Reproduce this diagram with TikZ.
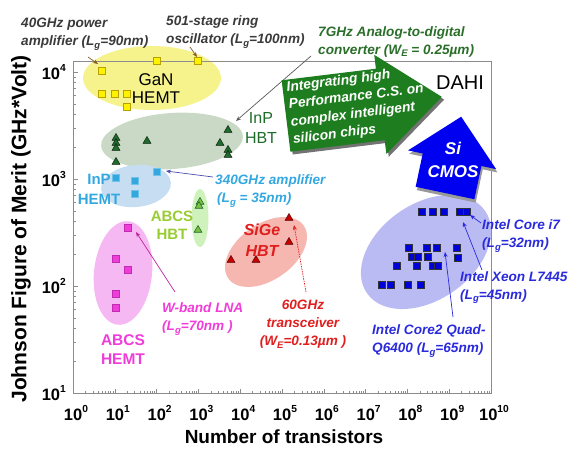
\documentclass[tikz,border=0pt]{standalone}
\usepackage{fontspec}
\setmainfont{Liberation Sans}
\usepackage{graphicx}
\usetikzlibrary{arrows.meta,shapes.geometric}
\definecolor{axgray}{HTML}{8C8C8C}
\definecolor{annot}{HTML}{3A3A3A}
\definecolor{ganfill}{HTML}{F7F38C}
\definecolor{ysqf}{HTML}{FFF200}
\definecolor{ysqd}{HTML}{B8A000}
\definecolor{hbtfill}{HTML}{C9D9C5}
\definecolor{hbtgreen}{HTML}{1E6B2A}
\definecolor{hemtfill}{HTML}{C6DDF2}
\definecolor{skyb}{HTML}{33A8E0}
\definecolor{abhbtfill}{HTML}{CFF2BC}
\definecolor{abgreen}{HTML}{99CC33}
\definecolor{abtri}{HTML}{7CC242}
\definecolor{pinkfill}{HTML}{F6B8F2}
\definecolor{mag}{HTML}{F03CD8}
\definecolor{magd}{HTML}{C02CB0}
\definecolor{sigefill}{HTML}{F5B7B0}
\definecolor{sred}{HTML}{E01E1E}
\definecolor{tred}{HTML}{C80000}
\definecolor{intelfill}{HTML}{BBBBF3}
\definecolor{iblue}{HTML}{0000D8}
\definecolor{itext}{HTML}{2A2ADD}
\definecolor{adcgreen}{HTML}{2A6E2A}
\definecolor{bigarrow}{HTML}{1E7D1E}
\definecolor{cmosblue}{HTML}{0000F0}
\newcommand{\fs}[2]{\fontsize{#1}{#2}\selectfont}
\newcommand{\sbx}[1]{\raisebox{-0.35ex}{\scalebox{0.7}{#1}}}
\newcommand{\pw}[1]{10\raisebox{0.85ex}{\scalebox{0.62}{#1}}}
\begin{document}
\begin{tikzpicture}[x=1pt,y=-1pt,
  axline/.style={draw=axgray,line width=1pt},
  tickmark/.style={draw=axgray,line width=0.6pt},
  ticklab/.style={inner sep=0pt,font=\fs{16.5}{18}\bfseries,text=black},
  annotxt/.style={inner sep=0pt,align=left,font=\fs{13.6}{18}\bfseries\itshape},
  grouptxt/.style={inner sep=0pt,align=center},
  ysq/.style={draw=ysqd,fill=ysqf,minimum size=7.5pt,inner sep=0pt,line width=0.8pt},
  gtri/.style={regular polygon,regular polygon sides=3,draw=black!70!hbtgreen,fill=hbtgreen,minimum size=9pt,inner sep=0pt,line width=0.5pt},
  bsq/.style={draw=skyb!70!white,fill=skyb,minimum size=7pt,inner sep=0pt,line width=0.8pt},
  atri/.style={regular polygon,regular polygon sides=3,draw=hbtgreen,fill=abtri,minimum size=9pt,inner sep=0pt,line width=0.6pt},
  msq/.style={draw=magd,fill=mag,minimum size=7pt,inner sep=0pt,line width=0.6pt},
  rtri/.style={regular polygon,regular polygon sides=3,draw=black!60!tred,fill=tred,minimum size=9pt,inner sep=0pt,line width=0.5pt},
  isq/.style={draw=black!80,fill=iblue,minimum size=7.5pt,inner sep=0pt,line width=0.6pt},
  ptr/.style={-{Stealth[length=5pt,width=4pt]},line width=0.7pt}
]
\useasboundingbox (0,0) rectangle (570,448);
% ---------- group ellipses ----------
\fill[ganfill] (152,78) ellipse (69 and 32);
\fill[hbtfill, rotate around={4:(172,141)}] (172,141) ellipse (71 and 28);
\fill[hemtfill, rotate around={6:(136,186)}] (136,186) ellipse (35 and 21);
\fill[abhbtfill] (200,218) ellipse (8.5 and 29);
\fill[pinkfill, rotate around={-6:(123,273)}] (123,273) ellipse (29 and 52);
\fill[sigefill, rotate around={35:(266,252)}] (266,252) ellipse (46 and 28);
\fill[intelfill, rotate around={35:(426,252)}] (426,252) ellipse (72 and 48);
% ---------- frame and ticks ----------
\draw[axline] (73,61) rectangle (491,393);
\foreach \d in {0,1,2}{
  \foreach \k in {2,...,9}{
    \pgfmathsetmacro{\yy}{393-107*(\d+log10(\k))}
    \draw[tickmark] (73,\yy) -- (76,\yy);
  }}
\foreach \d in {0,1,2,3}{ \draw[tickmark] (73,{393-107*\d}) -- (78,{393-107*\d}); }
\foreach \d in {0,...,9}{
  \foreach \k in {2,...,9}{
    \pgfmathsetmacro{\xx}{73+41.8*(\d+log10(\k))}
    \draw[tickmark] (\xx,393) -- (\xx,390.5);
  }}
\foreach \d in {0,...,10}{ \draw[tickmark] ({73+41.8*\d},393) -- ({73+41.8*\d},389); }
\foreach \d in {0,1,2,3}{
  \pgfmathtruncatemacro{\ee}{\d+1}
  \node[ticklab,anchor=east] (ylab\ee) at (66,{393-107*\d}) {\pw{\ee}};
}
\foreach \d in {0,...,10}{
  \node[ticklab] (xlab\d) at ({76+41.8*\d},413) {\pw{\d}};
}
\node[inner sep=0pt,font=\fs{19}{22}\bfseries] (xtitle) at (284,437) {Number of transistors};
\node[inner sep=0pt,font=\fs{21}{24}\bfseries,rotate=90] (ytitle) at (21,229) {Johnson Figure of Merit (GHz*Volt)};
% ---------- markers ----------
\foreach \p [count=\i] in {(102,71),(157,61),(198,61),(102,94),(115,94),(127,94),(127,107)}
  \node[ysq] (gan\i) at \p {};
\foreach \p [count=\i] in {(116,138),(116,143),(116,148),(116,162),(147,141),(228,130),(220,143),(228,150),(228,155)}
  \node[gtri] (hbt\i) at \p {};
\foreach \p [count=\i] in {(116,178),(135,181),(135,194),(157,172)}
  \node[bsq] (hemt\i) at \p {};
\foreach \p [count=\i] in {(200,202),(199,206),(198,230)}
  \node[atri] (abhbt\i) at \p {};
\foreach \p [count=\i] in {(128,228),(116,259),(128,270),(116,294),(116,308)}
  \node[msq] (abhemt\i) at \p {};
\foreach \p [count=\i] in {(289,218),(289,242),(231,260),(256,260)}
  \node[rtri] (sige\i) at \p {};
\foreach \p [count=\i] in {(422,212),(433,212),(444,212),(460,212),(467,212),
  (409,248),(427,248),(437,248),(457,248),
  (412,257),(418,257),(428,257),(458,258),
  (397,266),(417,266),(433,266),(438,266),
  (382,285),(391,285),(408,285),(421,285)}
  \node[isq] (cmos\i) at \p {};
% ---------- group labels ----------
\node[grouptxt,font=\fs{17}{18}] (lgan) at (156,89) {GaN\\HEMT};
\node[grouptxt,font=\fs{16}{20},text=hbtgreen] (linphbt) at (261,128) {InP\\HBT};
\node[grouptxt,font=\fs{15}{20}\bfseries,text=skyb] (linphemt) at (99,189) {InP\\HEMT};
\node[grouptxt,font=\fs{15}{18}\bfseries,text=abgreen] (labhbt) at (172,225) {ABCS\\HBT};
\node[grouptxt,font=\fs{15.5}{19}\bfseries,text=mag] (labhemt) at (123,350) {ABCS\\HEMT};
\node[grouptxt,font=\fs{16}{21}\bfseries\itshape,text=sred] (lsige) at (262,240) {SiGe\\HBT};
\node[inner sep=0pt,font=\fs{20}{22}] (ldahi) at (460,83) {DAHI};
% ---------- annotations ----------
\node[annotxt,text=annot,anchor=west] (a40) at (21,34) {40GHz power\\amplifier (L\sbx{g}=90nm)};
\node[annotxt,text=annot,anchor=west] (a501) at (166,32) {501-stage ring\\oscillator (L\sbx{g}=100nm)};
\node[annotxt,text=adcgreen,anchor=west] (a7g) at (318,41.5) {7GHz Analog-to-digital\\converter (W\sbx{E} = 0.25µm)};
\node[annotxt,text=skyb,anchor=west] (a340) at (215,191) {340GHz amplifier\\\hspace*{2pt}(L\sbx{g} = 35nm)};
\node[annotxt,text=mag,anchor=west] (awb) at (162,319) {W-band LNA\\(L\sbx{g}=70nm )};
\node[annotxt,text=sred,align=center] (a60) at (303,324.5) {60GHz\\transceiver\\(W\sbx{E}=0.13µm )};
\node[annotxt,text=itext,anchor=west] (ai7) at (482,236) {Intel Core i7\\(L\sbx{g}=32nm)};
\node[annotxt,text=itext,anchor=west] (axeon) at (460,287.5) {Intel Xeon L7445\\(L\sbx{g}=45nm)};
\node[annotxt,text=itext,anchor=west] (aq) at (372,341) {Intel Core2 Quad-\\Q6400 (L\sbx{g}=65nm)};
% ---------- pointer lines ----------
\coordinate (p40a) at (88,57);   \coordinate (p40b) at (98,64);
\coordinate (p501a) at (190,47); \coordinate (p501b) at (197,57);
\coordinate (p7a) at (311,56);   \coordinate (p7b) at (236,121);
\coordinate (p340a) at (213,177);\coordinate (p340b) at (166,171);
\coordinate (pwba) at (175,292); \coordinate (pwbb) at (136,232);
\coordinate (p60a) at (306,292); \coordinate (p60b) at (294,225);
\coordinate (pi7a) at (481,223); \coordinate (pi7b) at (470,215);
\coordinate (pxa) at (482,270);  \coordinate (pxb) at (463,222);
\coordinate (pqa) at (453,317);  \coordinate (pqb) at (445,252);
\draw[ptr,draw=brown!70!black] (p40a) -- (p40b);
\draw[ptr,draw=brown!70!black] (p501a) -- (p501b);
\draw[ptr,draw=black!65] (p7a) -- (p7b);
\draw[ptr,draw=blue!40!gray] (p340a) -- (p340b);
\draw[ptr,draw=magd!80!purple] (pwba) -- (pwbb);
\draw[ptr,draw=sred,dash pattern=on 1.5pt off 1pt] (p60a) -- (p60b);
\draw[ptr,draw=itext] (pi7a) -- (pi7b);
\draw[ptr,draw=itext] (pxa) -- (pxb);
\draw[ptr,draw=itext] (pqa) -- (pqb);
% ---------- big green arrow ----------
\begin{scope}[shift={(286,116)},rotate=7]
  \fill[black!55,shift={(2,3)}] (0,-36) -- (95,-36) -- (95,-50) -- (157,0) -- (95,50) -- (95,36) -- (0,36) -- cycle;
  \fill[bigarrow] (0,-36) -- (95,-36) -- (95,-50) -- (157,0) -- (95,50) -- (95,36) -- (0,36) -- cycle;
  \node[transform shape,anchor=west,inner sep=0pt,align=left,text=white,font=\fs{13.8}{17.4}\bfseries\itshape] (gtext) at (4,-1.5) {Integrating high\\Performance C.S. on\\complex intelligent\\silicon chips};
\end{scope}
% ---------- blue Si CMOS arrow ----------
\begin{scope}[shift={(445,193)},rotate=-12]
  \fill[black!40,shift={(2,3)}] (-30,0) -- (-30,-34) -- (-45,-34) -- (0,-78) -- (45,-34) -- (30,-34) -- (30,0) -- cycle;
  \fill[cmosblue] (-30,0) -- (-30,-34) -- (-45,-34) -- (0,-78) -- (45,-34) -- (30,-34) -- (30,0) -- cycle;
\end{scope}
\node[grouptxt,text=white,font=\fs{17}{23}\bfseries\itshape] (lcmos) at (453,160) {Si\\CMOS};
\end{tikzpicture}
\end{document}
